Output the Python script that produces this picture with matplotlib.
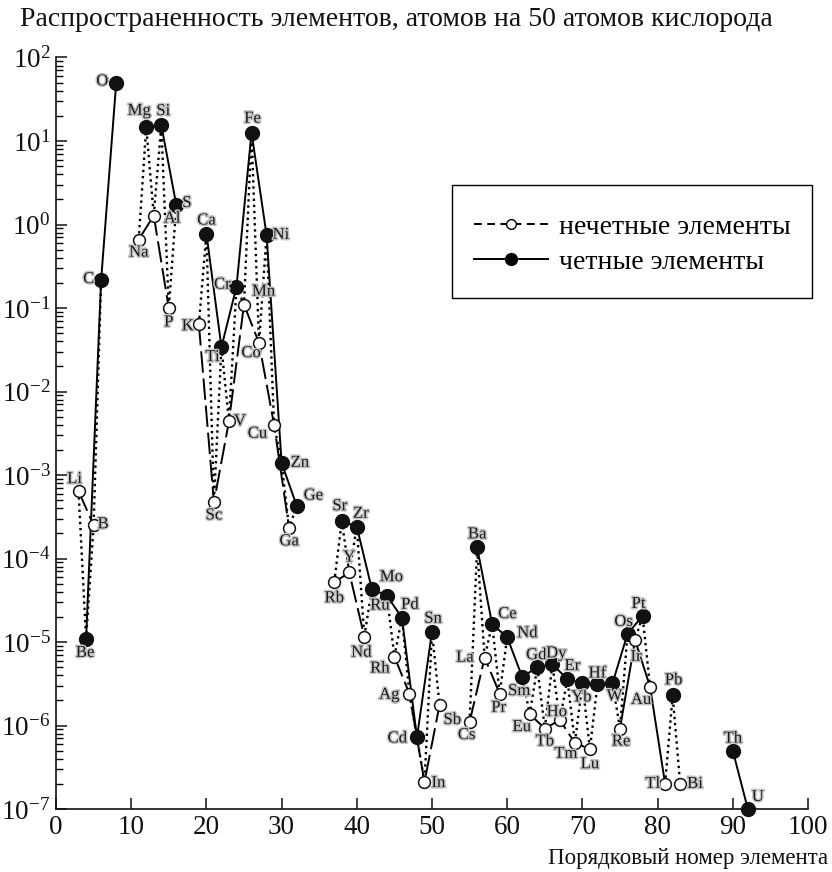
import matplotlib
matplotlib.use('Agg')
import matplotlib.pyplot as plt
import matplotlib.patheffects as pe
from matplotlib.lines import Line2D
from matplotlib.patches import Rectangle
from matplotlib.ticker import FixedLocator, NullFormatter, LogFormatterMathtext

plt.rcParams['font.family'] = ['Liberation Serif', 'DejaVu Serif']
plt.rcParams['mathtext.fontset'] = 'stix'

# ---------------- data ----------------
odd_symbols = ['Li', 'B', 'Na', 'Al', 'P', 'K', 'Sc', 'V', 'Mn', 'Co', 'Cu', 'Ga',
               'Rb', 'Y', 'Nd', 'Rh', 'Ag', 'In', 'Sb', 'Cs', 'La', 'Pr', 'Eu', 'Tb',
               'Ho', 'Tm', 'Lu', 'Re', 'Ir', 'Au', 'Tl', 'Bi']
odd_z = [3, 5, 11, 13, 15, 19, 21, 23, 25, 27, 29, 31, 37, 39, 41, 45, 47, 49, 51,
         55, 57, 59, 63, 65, 67, 69, 71, 75, 77, 79, 81, 83]
odd_values = [6.4e-4, 2.5e-4, 0.66, 1.28, 0.099, 0.064, 4.7e-4, 4.4e-3, 0.11, 0.038,
              4.0e-3, 2.3e-4, 5.2e-5, 6.8e-5, 1.16e-5, 6.7e-6, 2.4e-6, 2.1e-7, 1.76e-6,
              1.1e-6, 6.5e-6, 2.4e-6, 1.37e-6, 9.2e-7, 1.16e-6, 6.2e-7, 5.2e-7, 9.2e-7,
              1.06e-5, 2.9e-6, 2.0e-7, 2.0e-7]

even_symbols = ['Be', 'C', 'O', 'Mg', 'Si', 'S', 'Ca', 'Ti', 'Cr', 'Fe', 'Ni', 'Zn', 'Ge',
                'Sr', 'Zr', 'Mo', 'Ru', 'Pd', 'Cd', 'Sn', 'Ba', 'Ce', 'Nd', 'Sm', 'Gd',
                'Dy', 'Er', 'Yb', 'Hf', 'W', 'Os', 'Pt', 'Pb', 'Th', 'U']
even_z = [4, 6, 8, 12, 14, 16, 20, 22, 24, 26, 28, 30, 32, 38, 40, 42, 44, 46, 48, 50,
          56, 58, 60, 62, 64, 66, 68, 70, 72, 74, 76, 78, 82, 90, 92]
even_values = [1.09e-5, 0.216, 49, 14.8, 15.5, 1.71, 0.78, 0.034, 0.18, 12.6, 0.75,
               1.4e-3, 4.3e-4, 2.8e-4, 2.4e-4, 4.3e-5, 3.6e-5, 1.95e-5, 7.2e-7, 1.33e-5,
               1.36e-4, 1.64e-5, 1.14e-5, 3.8e-6, 5.0e-6, 5.4e-6, 3.6e-6, 3.2e-6, 3.1e-6,
               3.2e-6, 1.25e-5, 2.05e-5, 2.3e-6, 5.0e-7, 1.0e-7]

y_decades = [-7, -6, -5, -4, -3, -2, -1, 0, 1, 2]
x_ticks = [0, 10, 20, 30, 40, 50, 60, 70, 80, 90, 100]

legend_labels = ['нечетные элементы', 'четные элементы']
title_text = 'Распространенность элементов, атомов на 50 атомов кислорода'
xlabel_text = 'Порядковый номер элемента'

# odd elements in this Z range are joined by a solid line in the original
odd_solid_range = (75, 81)

# label offsets in pixels (dx right, dy down), keyed by Z
label_offsets = {
    3: (-4, -12), 4: (-1, 14), 5: (10, -1), 6: (-13, -1), 8: (-14, -2),
    11: (0, 13), 12: (-7, -16), 13: (16, 3), 14: (2, -14), 15: (0, 14), 16: (12, -2),
    19: (-11, 2), 20: (0, -13), 21: (0, 13), 22: (-9, 10), 23: (11, 0), 24: (-12, -2),
    25: (14, -13), 26: (1, -14), 27: (-8, 10), 28: (12, 0), 29: (-13, 9), 30: (15, 0),
    31: (0, 13), 32: (13, -10), 37: (0, 16), 38: (-2, -15), 39: (0, -15), 40: (4, -13),
    41: (-3, 16), 42: (14, -12), 44: (-7, 10), 45: (-11, 12), 46: (8, -13), 47: (-16, 1),
    48: (-16, 1), 49: (13, 1), 50: (1, -13), 51: (10, 15), 55: (-3, 13), 56: (0, -13),
    57: (-17, 0), 58: (12, -10), 59: (-1, 14), 60: (16, -4), 62: (-3, 14), 63: (-8, 13),
    64: (-1, -12), 65: (0, 13), 66: (4, -11), 67: (-3, -8), 68: (5, -13), 69: (-9, 11),
    70: (-1, 14), 71: (0, 15), 72: (0, -11), 74: (2, 13), 75: (1, 13), 76: (-4, -12),
    77: (1, 17), 78: (-4, -12), 79: (-9, 13), 81: (-11, 0), 82: (1, -15), 83: (13, 0),
    90: (0, -12), 92: (10, -12),
}


def runs(zs, vals, step):
    pairs = sorted(zip(zs, vals))
    groups, cur = [], []
    for z, v in pairs:
        if cur and z - cur[-1][0] != step:
            groups.append(cur)
            cur = []
        cur.append((z, v))
    if cur:
        groups.append(cur)
    return groups


W, H = 832, 872
fig = plt.figure(figsize=(W / 100, H / 100), dpi=100)
ax = fig.add_axes([56 / W, 1 - 809 / H, (808 - 56) / W, (809 - 57.5) / H])

LW = 1.4
# dotted line through consecutive elements
all_z = odd_z + even_z
all_v = odd_values + even_values
for g in runs(all_z, all_v, 1):
    if len(g) > 1:
        ax.plot([p[0] for p in g], [p[1] for p in g], color='k', lw=1.7,
                linestyle=(0, (1, 1.6)), zorder=1)

# odd elements: dashed (except the solid stretch)
odd_dash_z = [z for z in odd_z if not (odd_solid_range[0] <= z <= odd_solid_range[1])]
odd_dash_v = [v for z, v in zip(odd_z, odd_values)
              if not (odd_solid_range[0] <= z <= odd_solid_range[1])]
for g in runs(odd_dash_z, odd_dash_v, 2):
    if len(g) > 1:
        ax.plot([p[0] for p in g], [p[1] for p in g], color='k', lw=LW,
                dashes=(11, 3), zorder=2)
sol = [(z, v) for z, v in zip(odd_z, odd_values)
       if odd_solid_range[0] <= z <= odd_solid_range[1]]
ax.plot([p[0] for p in sol], [p[1] for p in sol], color='k', lw=LW, zorder=2)

# even elements: solid
for g in runs(even_z, even_values, 2):
    if len(g) > 1:
        ax.plot([p[0] for p in g], [p[1] for p in g], color='k', lw=LW, zorder=2)

ax.plot(even_z, even_values, linestyle='none', marker='o', ms=10, mfc='#111111',
        mec='#111111', zorder=4, clip_on=False)
ax.plot(odd_z, odd_values, linestyle='none', marker='o', ms=8.5, mfc='white',
        mec='#111111', mew=1.1, zorder=4, clip_on=False)

halo = [pe.withStroke(linewidth=2.2, foreground='#c4c4c4')]
for syms, zs, vs in ((odd_symbols, odd_z, odd_values), (even_symbols, even_z, even_values)):
    for s, z, v in zip(syms, zs, vs):
        dx, dy = label_offsets.get(z, (0, -12))
        ha = 'center'
        if dx >= 10:
            ha = 'left'
            dx -= 6
        elif dx <= -10:
            ha = 'right'
            dx += 6
        ax.annotate(s, (z, v), xytext=(dx, -dy), textcoords='offset pixels',
                    ha=ha, va='center', fontsize=12, color='#1a1a1a',
                    path_effects=halo, zorder=5, annotation_clip=False)

ax.set_xlim(0, 100)
ax.set_yscale('log')
ax.set_ylim(1e-7, 1e2)
ax.set_xticks(x_ticks)
ax.yaxis.set_major_locator(FixedLocator([10.0 ** d for d in y_decades]))
ax.yaxis.set_major_formatter(LogFormatterMathtext())
minor = [m * 10.0 ** d for d in y_decades[:-1] for m in range(2, 10)]
ax.yaxis.set_minor_locator(FixedLocator(minor))
ax.yaxis.set_minor_formatter(NullFormatter())
ax.tick_params(which='major', direction='in', length=8, width=1.1, labelsize=19.5,
               pad=4, colors='#111111')
ax.tick_params(which='minor', direction='in', length=5, width=1.0)
for sp in ('top', 'right'):
    ax.spines[sp].set_visible(False)
for sp in ('left', 'bottom'):
    ax.spines[sp].set_linewidth(1.2)
    ax.spines[sp].set_color('#111111')

fig.text(20 / W, 1 - 19 / H, title_text, ha='left', va='center', fontsize=20,
         color='#111111')
fig.text(828 / W, 1 - 858 / H, xlabel_text, ha='right', va='center', fontsize=16.5,
         color='#111111')

handles = [
    Line2D([], [], color='k', lw=LW, dashes=(4, 2.8), marker='o', mfc='white',
           mec='k', ms=7),
    Line2D([], [], color='k', lw=LW, marker='o', mfc='k', mec='k', ms=8.5),
]
leg = fig.legend(handles, legend_labels, loc='upper left',
                 bbox_to_anchor=(452 / W, 1 - 192 / H), bbox_transform=fig.transFigure,
                 fontsize=20, frameon=False,
                 handlelength=2.66, handletextpad=0.4, borderpad=0.8,
                 labelspacing=0.36, borderaxespad=0)
fig.patches.append(Rectangle((452 / W, 1 - 298 / H), 360 / W, 113 / H,
                             transform=fig.transFigure, fill=False,
                             edgecolor='k', linewidth=1.0, zorder=6))

fig.savefig('out.png', dpi=100)
